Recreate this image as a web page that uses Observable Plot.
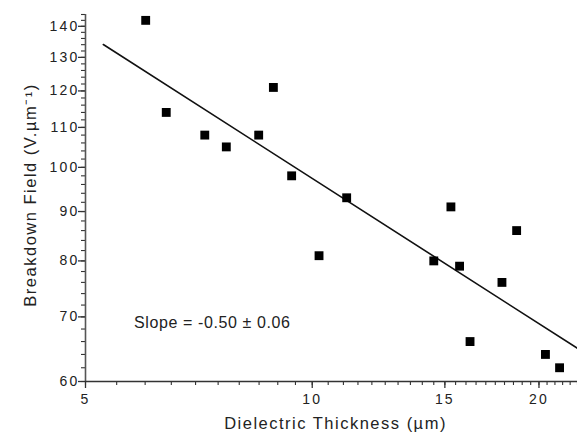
<!DOCTYPE html>
<html>
<head>
<meta charset="utf-8">
<script src="https://cdn.jsdelivr.net/npm/d3@7"></script>
<script src="https://cdn.jsdelivr.net/npm/@observablehq/plot@0.6"></script>
<style>
  html, body { margin: 0; padding: 0; background: #fff; }
  #chart svg { display: block; }
  g[aria-label="y-axis tick label"] text,
  g[aria-label="x-axis tick label"] text { letter-spacing: 2.2px; }
  g.axis-title text { letter-spacing: 1.5px; }
  g.slope-note text { letter-spacing: 0.6px; }
</style>
</head>
<body>
<div id="chart"></div>
<script>
// Dielectric thickness (µm) of each film
const thickness = [6.01, 6.40, 7.20, 7.69, 8.49, 8.88, 9.39, 10.21, 11.11, 14.5, 15.28, 15.69, 16.2, 17.86, 18.68, 20.4, 21.3];
// Measured breakdown field (V/µm)
const field = [142, 114, 108, 105, 108, 121, 98, 81, 93, 80, 91, 79, 66, 76, 86, 64, 62];

// Power-law fit E = A · t^slope
const fitSlope = -0.50;
const fitSlopeError = 0.06;
const fitPrefactor = 308;
const fitRange = [5.28, 22.5];

// Axis ticks
const xMajorTicks = [5, 10, 15, 20];
const yMajorTicks = [60, 70, 80, 90, 100, 110, 120, 130, 140];
const xMinorTicks = d3.range(5, 22.51, 0.5);
const yMinorTicks = d3.range(60, 144.1, 2);

const points = thickness.map((t, i) => ({t, e: field[i]}));
const fitLine = fitRange.map(t => ({t, e: fitPrefactor * Math.pow(t, fitSlope)}));

const ink = "#222";

const chart = Plot.plot({
  width: 577,
  height: 434,
  marginTop: 14,
  marginRight: 0,
  marginBottom: 53,
  marginLeft: 85,
  style: {fontFamily: "'Liberation Sans', Arial, sans-serif", color: ink, background: "#fff"},
  x: {type: "log", domain: [5, 22.5]},
  y: {type: "log", domain: [60, 144]},
  marks: [
    Plot.axisY(yMinorTicks, {tickSize: 4, text: null, label: null, stroke: "#333", strokeWidth: 1.1}),
    Plot.axisY(yMajorTicks, {tickSize: 7, tickPadding: -1, fontSize: 14, label: null, tickFormat: d => String(d), stroke: "#333", strokeWidth: 1.3}),
    Plot.axisX(xMinorTicks, {tickSize: 4, text: null, label: null, stroke: "#333", strokeWidth: 1.1}),
    Plot.axisX(xMajorTicks, {tickSize: 7, tickPadding: 6, fontSize: 14, label: null, tickFormat: d => String(d), stroke: "#333", strokeWidth: 1.3}),
    Plot.ruleX([5], {stroke: "#555", strokeWidth: 1.6}),
    Plot.ruleY([60], {stroke: "#333", strokeWidth: 1.6}),
    Plot.line(fitLine, {x: "t", y: "e", stroke: "#111", strokeWidth: 1.6}),
    Plot.dot(points, {x: "t", y: "e", symbol: "square", r: 5, fill: "#000", stroke: null}),
    Plot.text([`Slope = ${fitSlope.toFixed(2)} ± ${fitSlopeError.toFixed(2)}`], {
      x: 5.8, y: 69, textAnchor: "start", fontSize: 16, fill: ink, className: "slope-note"
    }),
    Plot.text(["Dielectric Thickness (µm)"], {
      frameAnchor: "bottom", textAnchor: "middle", lineAnchor: "middle",
      dy: 42, dx: 4, fontSize: 16.5, fill: ink, className: "axis-title"
    }),
    Plot.text(["Breakdown Field (V.µm⁻¹)"], {
      frameAnchor: "left", textAnchor: "middle", lineAnchor: "middle",
      dx: -55, dy: -3, rotate: -90, fontSize: 16.5, fill: ink, className: "axis-title"
    })
  ]
});

document.getElementById("chart").append(chart);
</script>
</body>
</html>
